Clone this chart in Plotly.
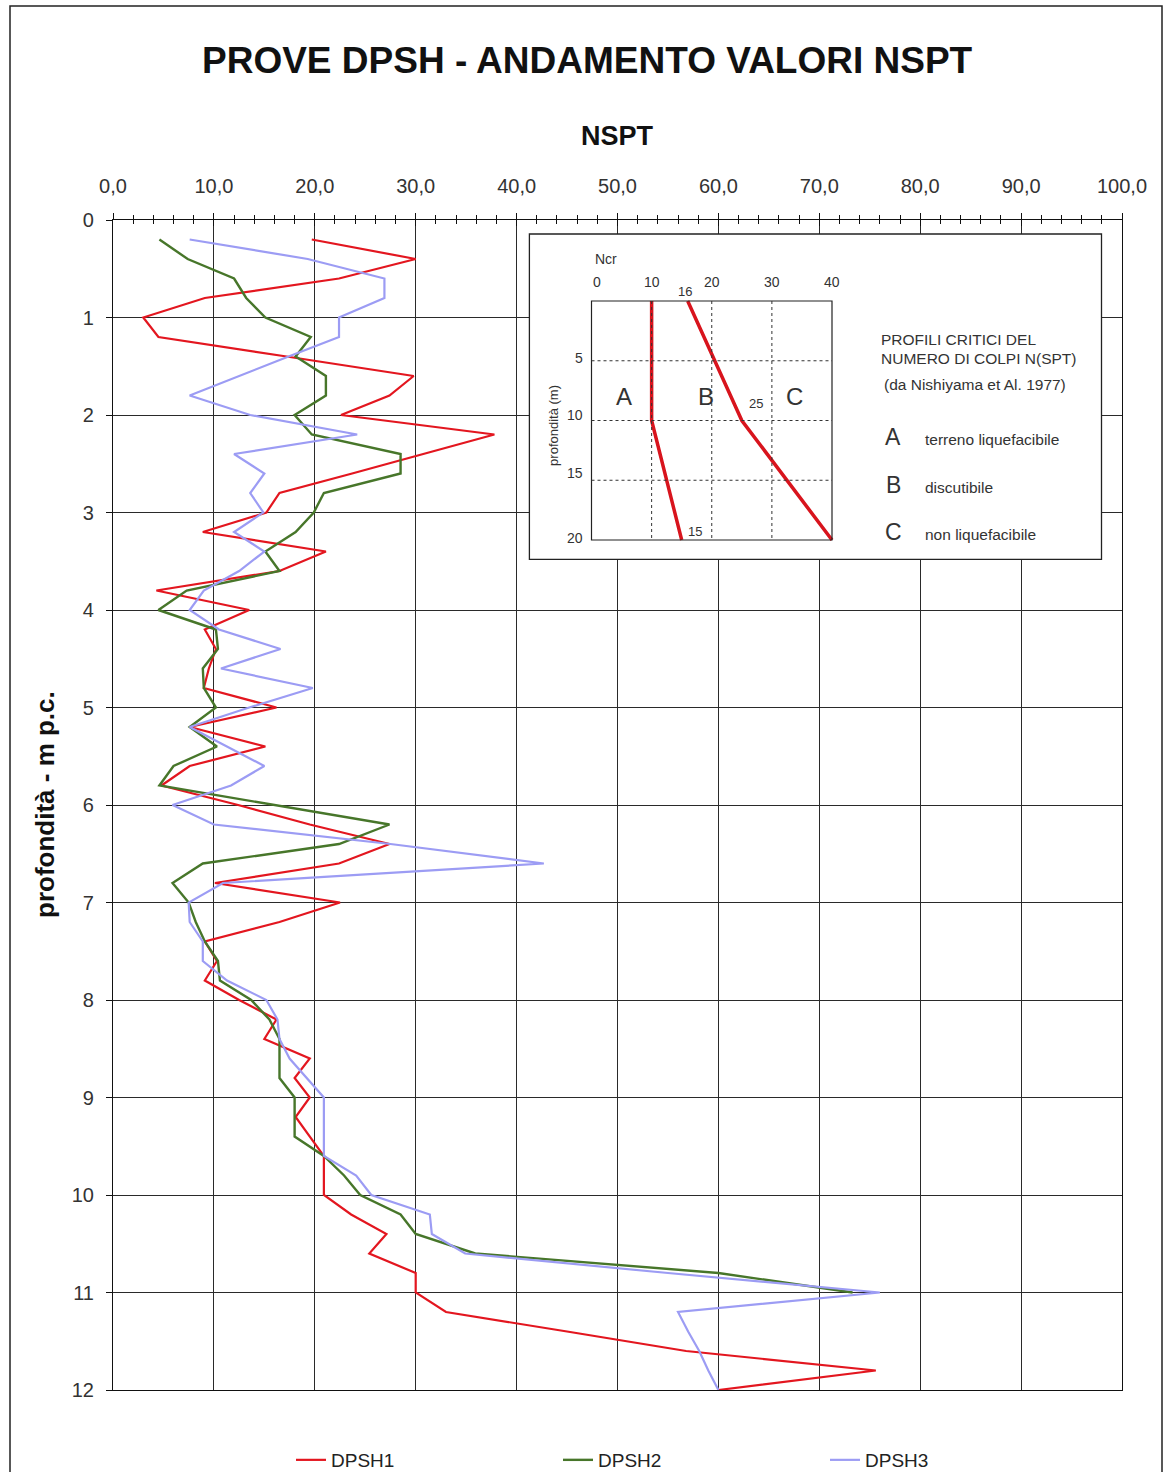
import plotly.graph_objects as go

# ---------------- data ----------------
depth = [0.2, 0.4, 0.6, 0.8, 1.0, 1.2, 1.4, 1.6, 1.8, 2.0,
         2.2, 2.4, 2.6, 2.8, 3.0, 3.2, 3.4, 3.6, 3.8, 4.0,
         4.2, 4.4, 4.6, 4.8, 5.0, 5.2, 5.4, 5.6, 5.8, 6.0,
         6.2, 6.4, 6.6, 6.8, 7.0, 7.2, 7.4, 7.6, 7.8, 8.0,
         8.2, 8.4, 8.6, 8.8, 9.0, 9.2, 9.4, 9.6, 9.8, 10.0,
         10.2, 10.4, 10.6, 10.8, 11.0, 11.2, 11.4, 11.6, 11.8, 12.0]

dpsh1 = [19.7, 30.0, 22.4, 9.1, 3.0, 4.5, 17.2, 29.8, 27.4, 22.6,
         37.8, 30.8, 23.7, 16.5, 15.2, 8.9, 21.1, 16.5, 4.3, 13.5,
         9.1, 10.2, 9.5, 9.0, 16.2, 7.6, 15.1, 7.6, 4.8, 12.4,
         19.5, 27.4, 22.4, 10.1, 22.5, 16.5, 9.1, 10.3, 9.1, 12.5,
         16.2, 15.0, 19.5, 18.0, 19.5, 18.1, 19.5, 20.9, 20.9, 20.9,
         23.6, 27.1, 25.4, 30.0, 30.0, 33.0, 45.0, 56.8, 75.6, 60.0]

depth2 = depth[:55]
dpsh2 = [4.6, 7.4, 12.0, 13.2, 15.1, 19.6, 18.1, 21.1, 21.1, 18.0,
         19.7, 28.5, 28.5, 20.9, 19.9, 18.1, 15.1, 16.5, 7.3, 4.5,
         10.2, 10.4, 8.9, 9.0, 10.2, 7.6, 10.3, 6.0, 4.6, 16.0,
         27.4, 22.4, 8.9, 5.9, 7.5, 8.2, 9.1, 10.4, 10.6, 13.7,
         15.5, 16.5, 16.5, 16.5, 18.0, 18.0, 18.0, 20.9, 22.9, 24.5,
         28.5, 30.0, 35.9, 60.0, 73.3]

dpsh3 = [7.6, 19.3, 26.9, 26.9, 22.4, 22.4, 17.4, 12.5, 7.6, 13.6,
         24.2, 12.0, 15.0, 13.6, 14.9, 12.0, 15.0, 12.5, 9.0, 7.6,
         10.5, 16.6, 10.7, 19.8, 13.5, 7.6, 11.3, 15.0, 11.7, 5.9,
         10.0, 27.5, 42.7, 10.9, 7.5, 7.6, 8.9, 8.9, 11.3, 15.2,
         16.3, 16.5, 17.5, 19.2, 20.9, 20.9, 20.9, 20.9, 24.1, 25.6,
         31.4, 31.6, 34.9, 55.0, 76.0, 56.0, 57.0, 58.1, 59.0, 60.0]

series_names = ["DPSH1", "DPSH2", "DPSH3"]
series_colors = ["#e3161f", "#47762a", "#9c9cf4"]

x_tickvals = [0, 10, 20, 30, 40, 50, 60, 70, 80, 90, 100]
x_ticktext = ["0,0", "10,0", "20,0", "30,0", "40,0", "50,0",
              "60,0", "70,0", "80,0", "90,0", "100,0"]
y_tickvals = [0, 1, 2, 3, 4, 5, 6, 7, 8, 9, 10, 11, 12]

# inset (Nishiyama et al. 1977) critical profiles
inset_ncr_A = [10, 10, 15]
inset_depth_A = [0, 10, 20]
inset_ncr_B = [16, 25, 40]
inset_depth_B = [0, 10, 20]
inset_xticks = [0, 10, 20, 30, 40]
inset_yticks = [5, 10, 15, 20]

# ---------------- figure ----------------
W, H = 1165, 1472
L, R, T, B = 113, 43, 220, 82
pw, ph = W - L - R, H - T - B


def px_x(p):
    return (p - L) / pw


def px_y(p):
    return (H - B - p) / ph


fig = go.Figure()

for name, col, xs, ys, wd in [
        (series_names[0], series_colors[0], dpsh1, depth, 2.2),
        (series_names[1], series_colors[1], dpsh2, depth2, 2.4),
        (series_names[2], series_colors[2], dpsh3, depth, 2.2)]:
    fig.add_trace(go.Scatter(x=xs, y=ys, mode="lines", name=name,
                             line=dict(color=col, width=wd),
                             xaxis="x", yaxis="y"))

# empty trace so that the inner tick half of the top axis is drawn
fig.add_trace(go.Scatter(x=[None], y=[None], mode="lines", showlegend=False,
                         hoverinfo="skip", xaxis="x3", yaxis="y"))

# ---- inset axes geometry (data units of the inset picture) ----
fx0, fx1 = 591.5, 832.0   # frame px (Ncr 0..40)
fy0, fy1 = 301.0, 540.0   # frame px (depth 0..20)
sx = (fx1 - fx0) / 40.0
sy = (fy1 - fy0) / 20.0
bx0, bx1, by0, by1 = 529.4, 1101.5, 234.0, 559.3  # box px


def ix(p):
    return (p - fx0) / sx


def iy(p):
    return (p - fy0) / sy


X0, X1 = ix(bx0), ix(bx1)
Y0, Y1 = iy(by0), iy(by1)

# white background of the inset box
fig.add_trace(go.Scatter(x=[X0, X1, X1, X0, X0], y=[Y0, Y0, Y1, Y1, Y0],
                         mode="lines", fill="toself", fillcolor="white",
                         line=dict(color="white", width=0),
                         hoverinfo="skip", showlegend=False,
                         xaxis="x2", yaxis="y2"))
for xs, ys in [(inset_ncr_A, inset_depth_A), (inset_ncr_B, inset_depth_B)]:
    fig.add_trace(go.Scatter(x=xs, y=ys, mode="lines",
                             line=dict(color="#d8141d", width=3.5),
                             hoverinfo="skip", showlegend=False,
                             xaxis="x2", yaxis="y2"))

shapes = []
# inset box border
shapes.append(dict(type="rect", xref="paper", yref="paper",
                   x0=px_x(bx0), x1=px_x(bx1), y0=px_y(by1), y1=px_y(by0),
                   line=dict(color="#222", width=1.3), layer="above"))
# inset frame
shapes.append(dict(type="rect", xref="x2", yref="y2", x0=0, x1=40, y0=0, y1=20,
                   line=dict(color="#222", width=1.2), layer="above"))
for v in [10, 20, 30]:
    shapes.append(dict(type="line", xref="x2", yref="y2", x0=v, x1=v, y0=0, y1=20,
                       line=dict(color="#333", width=1, dash="dot"), layer="above"))
for v in [5, 10, 15]:
    shapes.append(dict(type="line", xref="x2", yref="y2", x0=0, x1=40, y0=v, y1=v,
                       line=dict(color="#333", width=1, dash="dot"), layer="above"))
# page border
shapes.append(dict(type="rect", xref="paper", yref="paper",
                   x0=px_x(10), x1=px_x(1162), y0=px_y(1520), y1=px_y(6),
                   line=dict(color="#222", width=1.5), layer="above"))

ann = []
FONT = "Liberation Sans, Arial, sans-serif"
ann.append(dict(text="<b>PROVE DPSH - ANDAMENTO VALORI NSPT</b>", xref="paper", yref="paper",
                x=px_x(587), y=px_y(60), showarrow=False,
                font=dict(family=FONT, size=37, color="#111"), xanchor="center", yanchor="middle"))
ann.append(dict(text="<b>NSPT</b>", xref="paper", yref="paper",
                x=px_x(617), y=px_y(136), showarrow=False,
                font=dict(family=FONT, size=27, color="#111"), xanchor="center", yanchor="middle"))
ann.append(dict(text="<b>profondità - m p.c.</b>", xref="paper", yref="paper",
                x=px_x(45), y=px_y(805), showarrow=False, textangle=-90,
                font=dict(family=FONT, size=26, color="#111"), xanchor="center", yanchor="middle"))

# inset texts
IF = dict(family=FONT, color="#333")


def itext(t, x, y, size, xanchor="center", angle=0):
    ann.append(dict(text=t, xref="x2", yref="y2", x=x, y=y, showarrow=False,
                    textangle=angle, xanchor=xanchor, yanchor="middle",
                    font=dict(size=size, **IF)))


itext("Ncr", ix(605.8), iy(259.3), 14)
for v in inset_xticks:
    itext(str(v), v + (0.9 if v == 0 else 0), iy(281.7), 14)
for v, p in zip(inset_yticks, [358.3, 415.5, 473.0, 538.0]):
    itext(str(v), -1.0, iy(p), 14, xanchor="right")
itext("profondità (m)", ix(553.9), iy(425), 13, angle=-90)
itext("16", ix(684.5), iy(291.7), 13)
itext("25", ix(756.4), iy(404), 13)
itext("15", ix(695), iy(531), 13)
itext("A", ix(623.5), iy(396.7), 24)
itext("B", ix(705.5), iy(396.7), 24)
itext("C", ix(794.7), iy(396.7), 24)
itext("PROFILI CRITICI DEL", ix(878.5), iy(340), 15.5, xanchor="left")
itext("NUMERO DI COLPI N(SPT)", ix(878.5), iy(358.3), 15.5, xanchor="left")
itext("(da Nishiyama et Al. 1977)", ix(882.3), iy(384.3), 15.5, xanchor="left")
for letter, desc, p in [("A", "terreno liquefacibile", 437.5),
                        ("B", "discutibile", 485.5),
                        ("C", "non liquefacibile", 532.0)]:
    itext(letter, ix(893), iy(p), 23)
    itext(desc, ix(922.6), iy(p + 2), 15.5, xanchor="left")

fig.update_layout(
    width=W, height=H, autosize=False,
    margin=dict(l=L, r=R, t=T, b=B),
    paper_bgcolor="white", plot_bgcolor="white",
    font=dict(family=FONT, color="#222"),
    shapes=shapes, annotations=ann,
    showlegend=True,
    legend=dict(orientation="h", x=px_x(291), xanchor="left",
                yref="container", y=1 - 1460 / H, yanchor="middle",
                entrywidth=222, entrywidthmode="pixels",
                tracegroupgap=0,
                font=dict(family=FONT, size=19, color="#222"),
                bgcolor="rgba(0,0,0,0)", itemwidth=30),
    xaxis=dict(range=[0, 100], side="top", tickmode="array",
               tickvals=x_tickvals, ticktext=x_ticktext,
               showgrid=True, gridcolor="#2a2a2a", gridwidth=1,
               showline=True, linecolor="#111", linewidth=1.2, mirror=True,
               ticks="outside", ticklen=6, tickcolor="#111",
               minor=dict(dtick=2, ticks="outside", ticklen=4, tickcolor="#111", showgrid=False),
               tickfont=dict(family=FONT, size=20, color="#333"),
               ticklabelstandoff=12, zeroline=False, domain=[0, 1]),
    xaxis3=dict(range=[0, 100], side="top", overlaying="x", anchor="y",
                tickmode="array", tickvals=x_tickvals, showticklabels=False,
                showgrid=False, showline=False, zeroline=False,
                ticks="inside", ticklen=6, tickcolor="#111",
                minor=dict(dtick=2, ticks="inside", ticklen=4, tickcolor="#111", showgrid=False)),
    yaxis=dict(range=[12, 0], tickmode="array", tickvals=y_tickvals,
               showgrid=True, gridcolor="#2a2a2a", gridwidth=1,
               showline=True, linecolor="#111", linewidth=1.2, mirror=True,
               ticks="outside", ticklen=6, tickcolor="#111",
               tickfont=dict(family=FONT, size=20, color="#333"),
               ticklabelstandoff=8, zeroline=False, domain=[0, 1]),
    xaxis2=dict(domain=[px_x(bx0), px_x(bx1)], range=[X0, X1], anchor="y2",
                visible=False, showgrid=False, zeroline=False, fixedrange=True),
    yaxis2=dict(domain=[px_y(by1), px_y(by0)], range=[Y1, Y0], anchor="x2",
                visible=False, showgrid=False, zeroline=False, fixedrange=True),
)

fig.write_html("out.html")
